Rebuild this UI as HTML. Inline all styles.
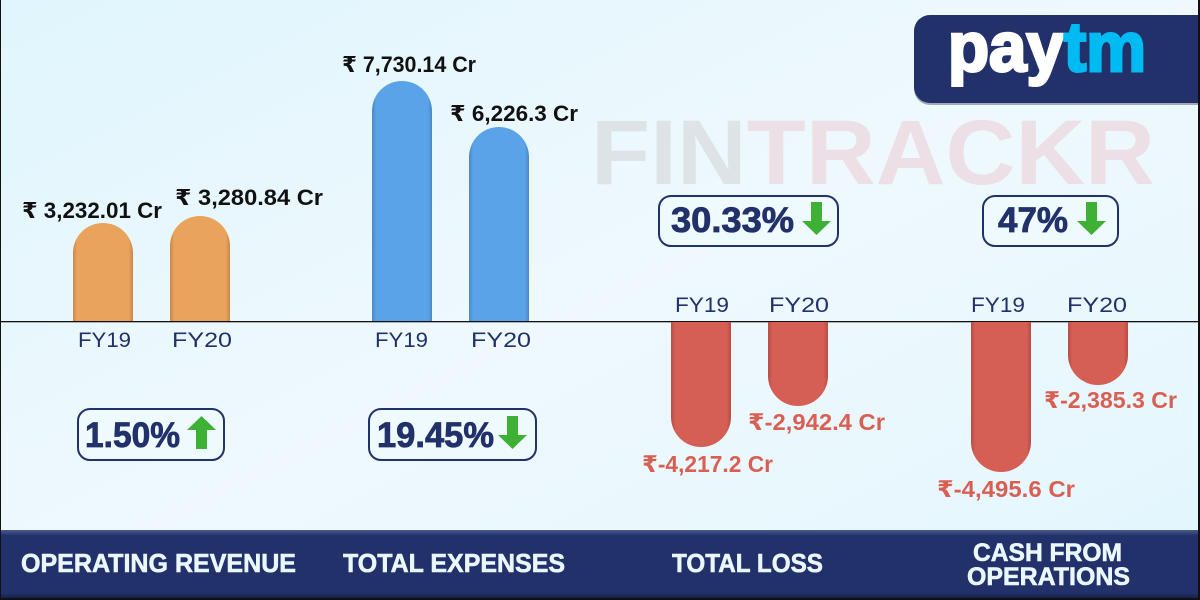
<!DOCTYPE html>
<html><head><meta charset="utf-8"><style>
html,body{margin:0;padding:0;width:1200px;height:600px;overflow:hidden;background:#e6f7fd}
svg{display:block}
text{font-family:"Liberation Sans","DejaVu Sans",sans-serif}
</style></head><body>
<svg width="1200" height="600" viewBox="0 0 1200 600" xmlns="http://www.w3.org/2000/svg">
<defs>
<linearGradient id="bg" x1="0" y1="0" x2="1" y2="1">
<stop offset="0" stop-color="#e0f5fd"/><stop offset="0.5" stop-color="#eff9fd"/><stop offset="1" stop-color="#e2f6fd"/>
</linearGradient>
<linearGradient id="ft" x1="0" y1="0" x2="0" y2="1">
<stop offset="0" stop-color="#4c5c8c"/><stop offset="0.08" stop-color="#22316a"/><stop offset="0.9" stop-color="#22316a"/><stop offset="1" stop-color="#121a3c"/>
</linearGradient>
<linearGradient id="og" x1="0" y1="0" x2="1" y2="0">
<stop offset="0" stop-color="#c9864a"/><stop offset="0.07" stop-color="#e9a35c"/><stop offset="0.93" stop-color="#e9a35c"/><stop offset="1" stop-color="#c9864a"/>
</linearGradient>
<linearGradient id="bgr" x1="0" y1="0" x2="1" y2="0">
<stop offset="0" stop-color="#4a88c4"/><stop offset="0.07" stop-color="#5ba3e8"/><stop offset="0.93" stop-color="#5ba3e8"/><stop offset="1" stop-color="#4a88c4"/>
</linearGradient>
<linearGradient id="rg" x1="0" y1="0" x2="1" y2="0">
<stop offset="0" stop-color="#b84c44"/><stop offset="0.07" stop-color="#d55e55"/><stop offset="0.93" stop-color="#d55e55"/><stop offset="1" stop-color="#b84c44"/>
</linearGradient>
<clipPath id="pc"><rect x="914" y="15" width="300" height="88" rx="16"/></clipPath>
</defs>
<rect x="0" y="0" width="1200" height="600" fill="url(#bg)"/>

<!-- watermark -->
<text x="591" y="184" font-size="92" font-weight="bold" textLength="564" lengthAdjust="spacingAndGlyphs"><tspan fill="#dde3e6">FIN</tspan><tspan fill="#ecdfe5">TRACKR</tspan></text>

<!-- paytm logo -->
<rect x="914" y="17" width="300" height="88" rx="16" fill="#0e173a" opacity="0.35"/>
<rect x="914" y="15" width="300" height="88" rx="16" fill="#22316a"/>
<g clip-path="url(#pc)">
<text x="948" y="71" font-size="70" font-weight="bold" stroke-width="3" textLength="198" lengthAdjust="spacingAndGlyphs"><tspan fill="#ffffff" stroke="#ffffff">pay</tspan><tspan fill="#00baf2" stroke="#00baf2">tm</tspan></text>
</g>

<!-- baseline -->
<rect x="0" y="321" width="1200" height="1.3" fill="#111"/>

<!-- orange bars -->
<path d="M73,321 V253 A30,30 0 0 1 133,253 V321 Z" fill="url(#og)"/>
<path d="M170,321 V246 A30,30 0 0 1 230,246 V321 Z" fill="url(#og)"/>
<!-- blue bars -->
<path d="M372,321 V111 A30,30 0 0 1 432,111 V321 Z" fill="url(#bgr)"/>
<path d="M469,321 V157 A30,30 0 0 1 529,157 V321 Z" fill="url(#bgr)"/>
<!-- red bars -->
<path d="M671,322 V417 A30,30 0 0 0 731,417 V322 Z" fill="url(#rg)"/>
<path d="M768,322 V376 A30,30 0 0 0 828,376 V322 Z" fill="url(#rg)"/>
<path d="M971,322 V442 A30,30 0 0 0 1031,442 V322 Z" fill="url(#rg)"/>
<path d="M1068,322 V355 A30,30 0 0 0 1128,355 V322 Z" fill="url(#rg)"/>

<!-- value labels -->
<g font-weight="bold" font-size="22" fill="#111">
<text x="22" y="218" textLength="140" lengthAdjust="spacingAndGlyphs">₹ 3,232.01 Cr</text>
<text x="175" y="205" textLength="148" lengthAdjust="spacingAndGlyphs">₹ 3,280.84 Cr</text>
<text x="342" y="72" textLength="134" lengthAdjust="spacingAndGlyphs">₹ 7,730.14 Cr</text>
<text x="450" y="121" textLength="128" lengthAdjust="spacingAndGlyphs">₹ 6,226.3 Cr</text>
</g>
<g font-weight="bold" font-size="23" fill="#d95f53">
<text x="642" y="472" textLength="131" lengthAdjust="spacingAndGlyphs">₹-4,217.2 Cr</text>
<text x="748" y="430" textLength="137" lengthAdjust="spacingAndGlyphs">₹-2,942.4 Cr</text>
<text x="1044" y="408" textLength="133" lengthAdjust="spacingAndGlyphs">₹-2,385.3 Cr</text>
<text x="937" y="497" textLength="138" lengthAdjust="spacingAndGlyphs">₹-4,495.6 Cr</text>
</g>

<!-- FY labels -->
<g font-size="21" fill="#22316a">
<text x="78" y="347" textLength="53" lengthAdjust="spacingAndGlyphs">FY19</text>
<text x="172" y="347" textLength="60" lengthAdjust="spacingAndGlyphs">FY20</text>
<text x="375" y="347" textLength="53" lengthAdjust="spacingAndGlyphs">FY19</text>
<text x="471" y="347" textLength="60" lengthAdjust="spacingAndGlyphs">FY20</text>
<text x="675" y="312" textLength="54" lengthAdjust="spacingAndGlyphs">FY19</text>
<text x="769" y="312" textLength="60" lengthAdjust="spacingAndGlyphs">FY20</text>
<text x="971" y="312" textLength="54" lengthAdjust="spacingAndGlyphs">FY19</text>
<text x="1067" y="312" textLength="60" lengthAdjust="spacingAndGlyphs">FY20</text>
</g>

<!-- percent boxes -->
<g fill="#eefafe" stroke="#22316a" stroke-width="2">
<rect x="659" y="196" width="179" height="50" rx="12"/>
<rect x="983" y="196" width="135" height="50" rx="12"/>
<rect x="78" y="409" width="146" height="51" rx="12"/>
<rect x="369" y="409" width="167" height="51" rx="12"/>
</g>
<g font-weight="bold" font-size="35" fill="#22316a" stroke="#22316a" stroke-width="0.8">
<text x="671" y="232" textLength="123" lengthAdjust="spacingAndGlyphs">30.33%</text>
<text x="998" y="232" textLength="70" lengthAdjust="spacingAndGlyphs">47%</text>
<text x="85" y="447" textLength="95" lengthAdjust="spacingAndGlyphs">1.50%</text>
<text x="377" y="447" textLength="117" lengthAdjust="spacingAndGlyphs">19.45%</text>
</g>
<g fill="#3db035">
<path d="M811,202 H822 V221 H831 L816.5,235 L802,221 H811 Z"/>
<path d="M1086,202 H1097 V221 H1106 L1091.5,235 L1077,221 H1086 Z"/>
<path d="M507,416 H518 V435 H527 L512.5,449 L498,435 H507 Z"/>
<path d="M196,449 H207 V430 H216 L201.5,416 L187,430 H196 Z"/>
</g>

<!-- footer -->
<rect x="0" y="530" width="1200" height="70" fill="url(#ft)"/>
<g font-weight="bold" font-size="26" fill="#eaf7fd" stroke="#eaf7fd" stroke-width="0.6">
<text x="21" y="572" textLength="275" lengthAdjust="spacingAndGlyphs">OPERATING REVENUE</text>
<text x="343" y="572" textLength="222" lengthAdjust="spacingAndGlyphs">TOTAL EXPENSES</text>
<text x="672" y="572" textLength="151" lengthAdjust="spacingAndGlyphs">TOTAL LOSS</text>
<text x="973" y="561" font-size="25" textLength="149" lengthAdjust="spacingAndGlyphs">CASH FROM</text>
<text x="967" y="585" font-size="25" textLength="163" lengthAdjust="spacingAndGlyphs">OPERATIONS</text>
</g>

<!-- frame -->
<rect x="0" y="0" width="1" height="600" fill="#111"/>
<rect x="1198" y="0" width="2" height="600" fill="#111"/>
<rect x="0" y="598" width="1200" height="2" fill="#111"/>
</svg>
</body></html>
